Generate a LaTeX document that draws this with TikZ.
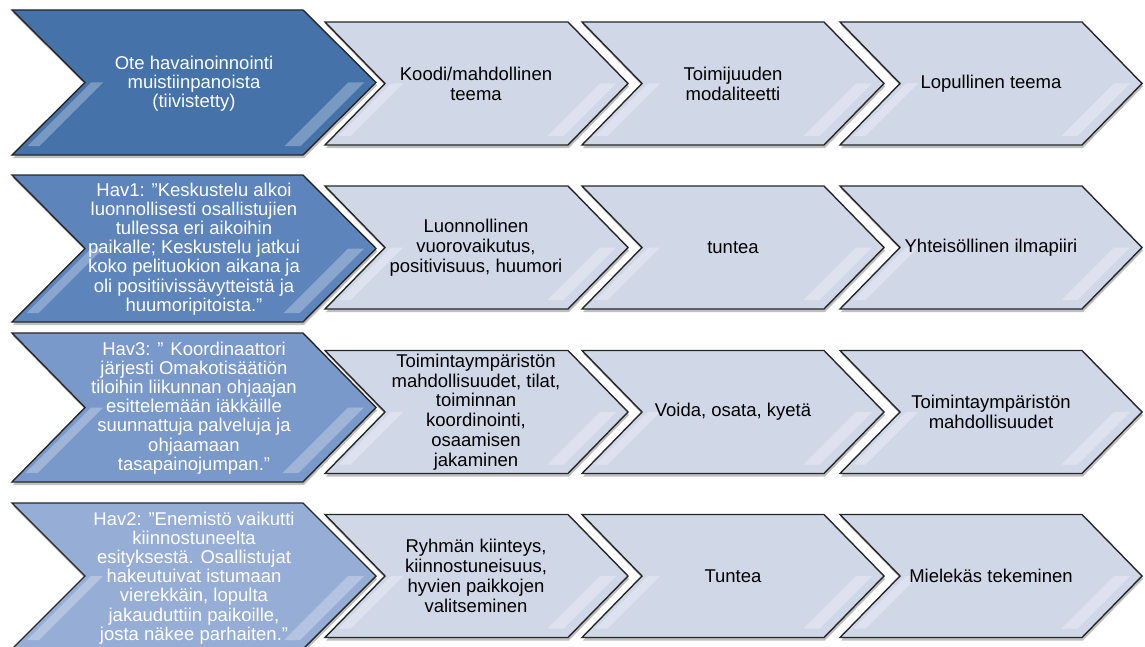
\documentclass[tikz,border=0pt]{standalone}
\usepackage{fontspec}
\setmainfont{Liberation Sans}

\definecolor{obsA}{RGB}{69,114,168}
\definecolor{obsB}{RGB}{93,133,188}
\definecolor{obsC}{RGB}{121,153,202}
\definecolor{obsD}{RGB}{150,174,214}
\definecolor{stepfill}{RGB}{208,216,232}

% #1 left x, #2 centre y, #3 body width, #4 half height, #5 point depth, #6 fill
\newcommand{\chevronshape}[6]{%
  \fill[chevshadow] (#1+1,#2-#4+3) -- ++(#3,0) -- ++(#5,#4) -- ++(-#5,#4) -- ++(-#3,0) -- ++(#5,-#4) -- cycle;
  \draw[chevline,fill=#6] (#1,#2-#4) -- ++(#3,0) -- ++(#5,#4) -- ++(-#5,#4) -- ++(-#3,0) -- ++(#5,-#4) -- cycle;
  \fill[gloss] (#1+#5+6,#2) -- ++(12,0) -- ++(-#4+9,#4-9) -- ++(-12,0) -- cycle;
  \fill[gloss] (#1+#3+#5-28,#2) -- ++(16,0) -- ++(-#4+9,#4-9) -- ++(-16,0) -- cycle;
}

\begin{document}
\begin{tikzpicture}[x=0.5pt,y=-0.5pt,
  chevline/.style={draw=black!85,line width=0.7pt,line join=miter},
  chevshadow/.style={fill=black,opacity=0.25},
  gloss/.style={fill=white,opacity=0.28},
  obstext/.style={align=center,text=white,inner sep=0pt,font=\fontsize{9.25}{9.6}\selectfont},
  steptext/.style={align=center,text=black,inner sep=0pt,font=\fontsize{9.25}{9.9}\selectfont}]
  \useasboundingbox (0,0) rectangle (1145,647);

  % header row
  \chevronshape{12}{82.5}{291}{72.5}{73}{obsA}
  \chevronshape{325}{83.5}{243}{61.5}{60}{stepfill}
  \chevronshape{582}{83.5}{242}{61.5}{60}{stepfill}
  \chevronshape{840}{83.5}{242}{61.5}{60}{stepfill}
  \node[obstext] (obs0) at (194,84) {Ote havainoinnointi\\muistiinpanoista\\(tiivistetty)};
  \node[steptext] (code0) at (476,84) {Koodi/mahdollinen\\teema};
  \node[steptext] (mod0) at (733,84) {Toimijuuden\\modaliteetti};
  \node[steptext] (theme0) at (991,84) {Lopullinen teema};

  % Hav1
  \chevronshape{12}{248.5}{291}{73.5}{73}{obsB}
  \chevronshape{325}{247.5}{243}{61.5}{60}{stepfill}
  \chevronshape{582}{247.5}{242}{61.5}{60}{stepfill}
  \chevronshape{840}{247.5}{242}{61.5}{60}{stepfill}
  \node[obstext] (obs1) at (194,249) {Hav1: ”Keskustelu alkoi\\luonnollisesti osallistujien\\tullessa eri aikoihin\\paikalle; Keskustelu jatkui\\koko pelituokion aikana ja\\oli positiivissävytteistä ja\\huumoripitoista.”};
  \node[steptext] (code1) at (476,248) {Luonnollinen\\vuorovaikutus,\\positivisuus, huumori};
  \node[steptext] (mod1) at (733,248) {tuntea};
  \node[steptext] (theme1) at (991,248) {Yhteisöllinen ilmapiiri};

  % Hav3
  \chevronshape{12}{407.5}{291}{74.5}{73}{obsC}
  \chevronshape{325}{412}{243}{61.5}{60}{stepfill}
  \chevronshape{582}{412}{242}{61.5}{60}{stepfill}
  \chevronshape{840}{412}{242}{61.5}{60}{stepfill}
  \node[obstext] (obs3) at (194,408) {Hav3: ” Koordinaattori\\järjesti Omakotisäätiön\\tiloihin liikunnan ohjaajan\\esittelemään iäkkäille\\suunnattuja palveluja ja\\ohjaamaan\\tasapainojumpan.”};
  \node[steptext] (code3) at (476,412) {Toimintaympäristön\\mahdollisuudet, tilat,\\toiminnan\\koordinointi,\\osaamisen\\jakaminen};
  \node[steptext] (mod3) at (733,412) {Voida, osata, kyetä};
  \node[steptext] (theme3) at (991,412) {Toimintaympäristön\\mahdollisuudet};

  % Hav2
  \chevronshape{12}{576}{291}{73}{73}{obsD}
  \chevronshape{325}{576}{243}{61.5}{60}{stepfill}
  \chevronshape{582}{576}{242}{61.5}{60}{stepfill}
  \chevronshape{840}{576}{242}{61.5}{60}{stepfill}
  \node[obstext] (obs2) at (194,578) {Hav2: ”Enemistö vaikutti\\kiinnostuneelta\\esityksestä. Osallistujat\\hakeutuivat istumaan\\vierekkäin, lopulta\\jakauduttiin paikoille,\\josta näkee parhaiten.”};
  \node[steptext] (code2) at (476,576) {Ryhmän kiinteys,\\kiinnostuneisuus,\\hyvien paikkojen\\valitseminen};
  \node[steptext] (mod2) at (733,576) {Tuntea};
  \node[steptext] (theme2) at (991,576) {Mielekäs tekeminen};
\end{tikzpicture}
\end{document}
